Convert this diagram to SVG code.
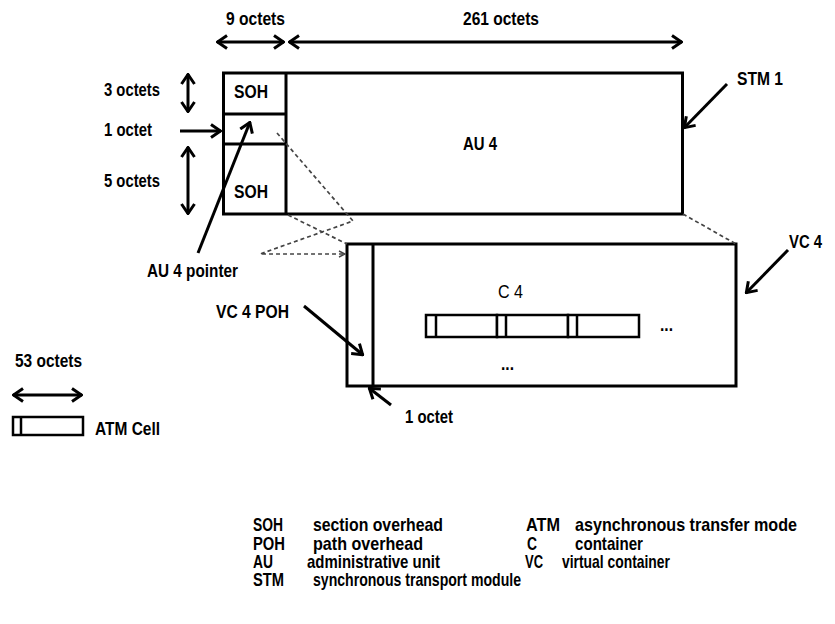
<svg xmlns="http://www.w3.org/2000/svg" width="835" height="624" viewBox="0 0 835 624">
<defs>
<style>
.t{font-family:"Liberation Sans",Arial,sans-serif;font-weight:bold;font-size:19px;fill:#000}
.l{font-family:"Liberation Sans",Arial,sans-serif;font-weight:bold;font-size:18px;fill:#000}
.r{font-family:"Liberation Sans",Arial,sans-serif;font-weight:normal;font-size:19px;fill:#000}
.box{fill:#fff;stroke:#000;stroke-width:3}
.ln{fill:none;stroke:#000;stroke-width:3}
.cell{fill:#fff;stroke:#000;stroke-width:2.5}
.arr{fill:none;stroke:#000;stroke-width:3;marker-end:url(#ah)}
.dbl{fill:none;stroke:#000;stroke-width:3;marker-start:url(#ah);marker-end:url(#ah)}
.dash{fill:none;stroke:#444;stroke-width:1.7;stroke-dasharray:4 3}
</style>
<marker id="ah" viewBox="0 0 12 16" refX="11" refY="8" markerWidth="12" markerHeight="16" markerUnits="userSpaceOnUse" orient="auto-start-reverse">
<path d="M1,1.5 L10.5,8 L1,14.5" fill="none" stroke="#000" stroke-width="3"/>
</marker>
<marker id="sh" viewBox="0 0 8 8" refX="7" refY="4" markerWidth="8" markerHeight="8" markerUnits="userSpaceOnUse" orient="auto">
<path d="M1,1 L7,4 L1,7" fill="none" stroke="#444" stroke-width="1.4"/>
</marker>
</defs>
<rect width="835" height="624" fill="#fff"/>

<g id="stm1">
<rect class="box" x="223.5" y="73" width="459" height="141"/>
<path class="ln" d="M286,73 L286,214 M223.5,114 L286,114 M223.5,144 L286,144"/>
<text class="t" transform="matrix(.8 0 0 1 234 98)" textLength="42.5" lengthAdjust="spacingAndGlyphs">SOH</text>
<text class="t" transform="matrix(.8 0 0 1 234 198)" textLength="42.5" lengthAdjust="spacingAndGlyphs">SOH</text>
<text class="t" transform="matrix(.8 0 0 1 463 150)" textLength="42.5" lengthAdjust="spacingAndGlyphs">AU 4</text>
</g>

<g id="dims">
<text class="t" transform="matrix(.8 0 0 1 226 25)" textLength="73.75" lengthAdjust="spacingAndGlyphs">9 octets</text>
<text class="t" transform="matrix(.8 0 0 1 463 25)" textLength="95" lengthAdjust="spacingAndGlyphs">261 octets</text>
<text class="t" transform="matrix(.8 0 0 1 104 96)" textLength="70" lengthAdjust="spacingAndGlyphs">3 octets</text>
<text class="t" transform="matrix(.8 0 0 1 104 136)" textLength="60" lengthAdjust="spacingAndGlyphs">1 octet</text>
<text class="t" transform="matrix(.8 0 0 1 104 187)" textLength="70" lengthAdjust="spacingAndGlyphs">5 octets</text>
</g>

<g id="stm1-label">
<text class="t" transform="matrix(.8 0 0 1 737 85)" textLength="57.5" lengthAdjust="spacingAndGlyphs">STM 1</text>
</g>

<g id="au4-pointer-label">
<text class="t" transform="matrix(.8 0 0 1 147 277)" textLength="113.75" lengthAdjust="spacingAndGlyphs">AU 4 pointer</text>
</g>

<g id="vc4">
<rect class="box" x="347" y="244" width="389" height="142"/>
<path class="ln" d="M373,244 L373,386"/>
<text class="r" transform="matrix(.8 0 0 1 498 298)" textLength="31.25" lengthAdjust="spacingAndGlyphs">C 4</text>
<rect class="cell" x="426" y="315" width="71" height="22"/>
<path class="cell" d="M436,315 L436,337"/>
<rect class="cell" x="497" y="315" width="71" height="22"/>
<path class="cell" d="M506,315 L506,337"/>
<rect class="cell" x="568" y="315" width="71" height="22"/>
<path class="cell" d="M577,315 L577,337"/>
<text class="t" transform="matrix(.8 0 0 1 660 331)" textLength="16.25" lengthAdjust="spacingAndGlyphs">...</text>
<text class="t" transform="matrix(.8 0 0 1 501 370)" textLength="16.25" lengthAdjust="spacingAndGlyphs">...</text>
</g>

<g id="vc4-label">
<text class="t" transform="matrix(.8 0 0 1 789 248)" textLength="41.25" lengthAdjust="spacingAndGlyphs">VC 4</text>
</g>

<g id="vc4-poh-label">
<text class="t" transform="matrix(.8 0 0 1 216 318)" textLength="91.25" lengthAdjust="spacingAndGlyphs">VC 4 POH</text>
</g>

<g id="poh-octet-label">
<text class="t" transform="matrix(.8 0 0 1 405 423)" textLength="60" lengthAdjust="spacingAndGlyphs">1 octet</text>
</g>

<g id="atm-cell">
<text class="t" transform="matrix(.8 0 0 1 15 367)" textLength="83.75" lengthAdjust="spacingAndGlyphs">53 octets</text>
<rect class="cell" x="13" y="417" width="70" height="18"/>
<path class="cell" d="M21,417 L21,435"/>
<text class="t" transform="matrix(.8 0 0 1 95 435)" textLength="81.25" lengthAdjust="spacingAndGlyphs">ATM Cell</text>
</g>

<g id="legend">
<text class="l" transform="matrix(.85 0 0 1 253 531)" textLength="35.3" lengthAdjust="spacingAndGlyphs">SOH</text>
<text class="l" transform="matrix(.85 0 0 1 313 531)" textLength="152.9" lengthAdjust="spacingAndGlyphs">section overhead</text>
<text class="l" transform="matrix(.85 0 0 1 526 531)" textLength="40" lengthAdjust="spacingAndGlyphs">ATM</text>
<text class="l" transform="matrix(.85 0 0 1 575 531)" textLength="261.2" lengthAdjust="spacingAndGlyphs">asynchronous transfer mode</text>
<text class="l" transform="matrix(.85 0 0 1 253 550)" textLength="37.6" lengthAdjust="spacingAndGlyphs">POH</text>
<text class="l" transform="matrix(.85 0 0 1 313 550)" textLength="129.4" lengthAdjust="spacingAndGlyphs">path overhead</text>
<text class="l" transform="matrix(.85 0 0 1 527 550)" textLength="11.8" lengthAdjust="spacingAndGlyphs">C</text>
<text class="l" transform="matrix(.85 0 0 1 575 550)" textLength="80" lengthAdjust="spacingAndGlyphs">container</text>
<text class="l" transform="matrix(.85 0 0 1 253 568)" textLength="23.5" lengthAdjust="spacingAndGlyphs">AU</text>
<text class="l" transform="matrix(.85 0 0 1 307 568)" textLength="156.5" lengthAdjust="spacingAndGlyphs">administrative unit</text>
<text class="l" transform="matrix(.85 0 0 1 525 568)" textLength="21.2" lengthAdjust="spacingAndGlyphs">VC</text>
<text class="l" transform="matrix(.85 0 0 1 562 568)" textLength="127" lengthAdjust="spacingAndGlyphs">virtual container</text>
<text class="l" transform="matrix(.85 0 0 1 253 586)" textLength="36.5" lengthAdjust="spacingAndGlyphs">STM</text>
<text class="l" transform="matrix(.85 0 0 1 313 586)" textLength="244.7" lengthAdjust="spacingAndGlyphs">synchronous transport module</text>
</g>

<g id="connectors">
<path class="dash" d="M277,133 L353,221 L260,254 L345,254" marker-end="url(#sh)"/>
<path class="dash" d="M288,215 L347,244"/>
<path class="dash" d="M683,214 L736,244"/>
<path class="dbl" d="M217,42 L284,42"/>
<path class="dbl" d="M289,42 L682,42"/>
<path class="dbl" d="M188,74 L188,112"/>
<path class="dbl" d="M188,147 L188,214"/>
<path class="arr" d="M180,131 L221,131"/>
<path class="arr" d="M727,84 L684,128"/>
<path class="arr" d="M198,253 L250,122"/>
<path class="arr" d="M788,250 L746,293"/>
<path class="arr" d="M304,306 L363,355"/>
<path class="arr" d="M391,405 L369,388"/>
<path class="dbl" d="M13,395 L82,395"/>
</g>
</svg>
